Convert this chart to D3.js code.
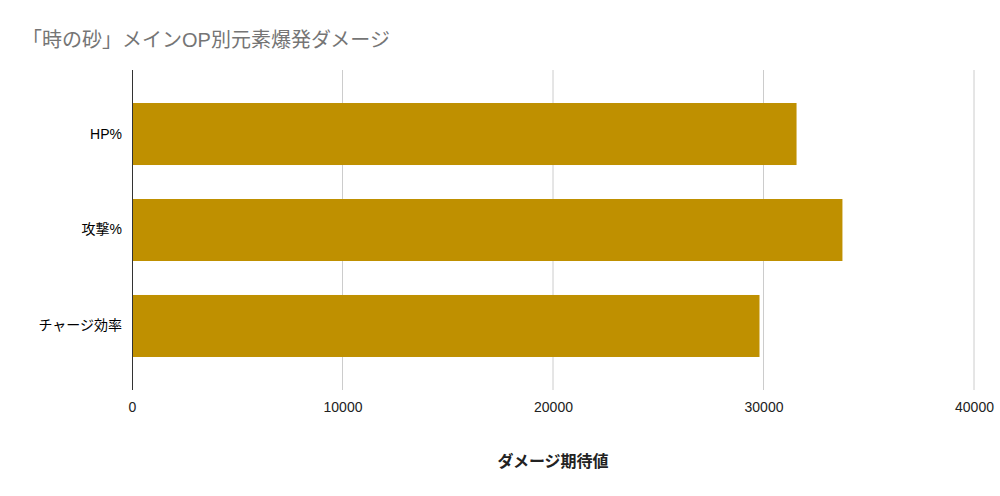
<!DOCTYPE html>
<html>
<head>
<meta charset="utf-8">
<script src="https://cdn.jsdelivr.net/npm/d3@7"></script>
<style>
  body { margin: 0; background: #fff; }
  text { font-family: Arial, "Liberation Sans", "Noto Sans CJK JP", sans-serif; }
</style>
</head>
<body>
<svg></svg>
<script>
// data
let categories = ['HP%', '攻撃%', 'チャージ効率'];
let damage = [31570, 33750, 29810];
let xTicks = [0, 10000, 20000, 30000, 40000];

let width = 1000;
let height = 496;
let plotLeft = 132, plotRight = 974, plotTop = 70, plotBottom = 390;

let svg = d3.select('svg')
  .attr('width', width)
  .attr('height', height);

let xScale = d3.scaleLinear().domain([0, 40000]).range([plotLeft, plotRight]);
let yScale = d3.scaleBand().domain(categories).range([plotTop, plotBottom])
  .paddingInner(0.354).paddingOuter(0.344);

// grid
svg.append('g')
  .selectAll('line')
  .data(xTicks.slice(1))
  .enter()
  .append('line')
  .attr('x1', d => xScale(d)).attr('x2', d => xScale(d))
  .attr('y1', plotTop).attr('y2', plotBottom)
  .attr('stroke', '#cccccc');

// bars
svg.append('g')
  .selectAll('rect')
  .data(damage)
  .enter()
  .append('rect')
  .attr('x', xScale(0))
  .attr('y', (d, i) => yScale(categories[i]))
  .attr('width', d => xScale(d) - xScale(0))
  .attr('height', yScale.bandwidth())
  .attr('fill', '#bf9000');

// baseline
svg.append('line')
  .attr('x1', xScale(0) + 0.5).attr('x2', xScale(0) + 0.5)
  .attr('y1', plotTop).attr('y2', plotBottom)
  .attr('stroke', '#333');

// axes
let xAxis = d3.axisBottom(xScale).tickValues(xTicks).tickSize(0).tickPadding(12).tickFormat(d3.format('d'));
let gx = svg.append('g')
  .attr('transform', 'translate(0,' + plotBottom + ')')
  .call(xAxis);
gx.select('.domain').remove();
gx.selectAll('text').attr('font-size', 14).attr('fill', '#222')
  .style('font-family', 'Arial, "Liberation Sans", sans-serif');

let yAxis = d3.axisLeft(yScale).tickSize(0).tickPadding(10);
let gy = svg.append('g')
  .attr('transform', 'translate(' + plotLeft + ',0)')
  .call(yAxis);
gy.select('.domain').remove();
gy.selectAll('text').attr('font-size', 14).attr('fill', '#000')
  .style('font-family', 'Arial, "Liberation Sans", "Noto Sans CJK JP", sans-serif');

// titles
svg.append('text')
  .attr('x', 22).attr('y', 47)
  .attr('font-size', 20)
  .attr('fill', '#757575')
  .text('「時の砂」メインOP別元素爆発ダメージ');

svg.append('text')
  .attr('x', 553).attr('y', 467)
  .attr('text-anchor', 'middle')
  .attr('font-size', 16)
  .attr('font-weight', 'bold')
  .attr('fill', '#222')
  .text('ダメージ期待値');
</script>
</body>
</html>
